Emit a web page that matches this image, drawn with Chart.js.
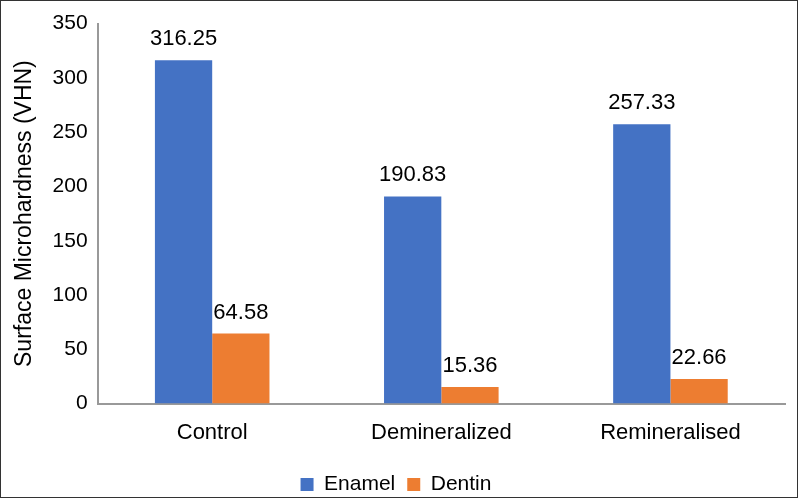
<!DOCTYPE html>
<html lang="en">
<head>
    <meta charset="UTF-8">
    <title>Surface Microhardness</title>
    <script src="https://cdn.jsdelivr.net/npm/chart.js"></script>
    <style>
        html, body { margin: 0; padding: 0; background: #fff; }
        .wrap {
            width: 796px;
            height: 496px;
            border: 1px solid #333;
            position: relative;
        }
    </style>
</head>
<body>
<div class="wrap">
    <canvas id="hardnessChart"></canvas>
</div>
<script>
    const categories = ['Control', 'Demineralized', 'Remineralised'];
    const enamelValues = [316.25, 190.83, 257.33];
    const dentinValues = [64.58, 15.36, 22.66];
    const enamelLabels = ['316.25', '190.83', '257.33'];
    const dentinLabels = ['64.58', '15.36', '22.66'];

    const fontFamily = '"Liberation Sans", Arial, sans-serif';

    // draws the value above each bar
    const valueLabels = {
        id: 'valueLabels',
        afterDatasetsDraw(chart) {
            const ctx = chart.ctx;
            const texts = [enamelLabels, dentinLabels];
            ctx.save();
            ctx.font = '22px ' + fontFamily;
            ctx.fillStyle = '#000';
            ctx.textAlign = 'center';
            ctx.textBaseline = 'bottom';
            chart.data.datasets.forEach((ds, i) => {
                chart.getDatasetMeta(i).data.forEach((bar, j) => {
                    ctx.fillText(texts[i][j], bar.x, bar.y - 10);
                });
            });
            ctx.restore();
        }
    };

    new Chart(document.getElementById('hardnessChart'), {
        type: 'bar',
        data: {
            labels: categories,
            datasets: [
                { label: 'Enamel', data: enamelValues, backgroundColor: '#4472C4' },
                { label: 'Dentin', data: dentinValues, backgroundColor: '#ED7D31' }
            ]
        },
        options: {
            responsive: true,
            maintainAspectRatio: false,
            animation: false,
            layout: { padding: { top: 9, right: 12, left: 6, bottom: -8 } },
            datasets: { bar: { categoryPercentage: 0.5, barPercentage: 1.0 } },
            plugins: {
                legend: {
                    position: 'bottom',
                    labels: {
                        boxWidth: 13,
                        boxHeight: 13,
                        padding: 12,
                        color: '#000',
                        font: { size: 21, family: fontFamily }
                    }
                },
                tooltip: { enabled: false }
            },
            scales: {
                x: {
                    grid: { display: false, drawTicks: false },
                    border: { color: '#999', width: 2 },
                    ticks: {
                        color: '#000',
                        padding: 16,
                        font: { size: 22, family: fontFamily }
                    }
                },
                y: {
                    min: 0,
                    max: 350,
                    grid: { display: false, drawTicks: false },
                    border: { color: '#999', width: 2 },
                    ticks: {
                        stepSize: 50,
                        color: '#000',
                        padding: 10,
                        font: { size: 21, family: fontFamily }
                    },
                    title: {
                        display: true,
                        text: 'Surface Microhardness (VHN)',
                        color: '#000',
                        padding: { top: 4, bottom: 4 },
                        font: { size: 23, family: fontFamily }
                    }
                }
            }
        },
        plugins: [valueLabels]
    });
</script>
</body>
</html>
